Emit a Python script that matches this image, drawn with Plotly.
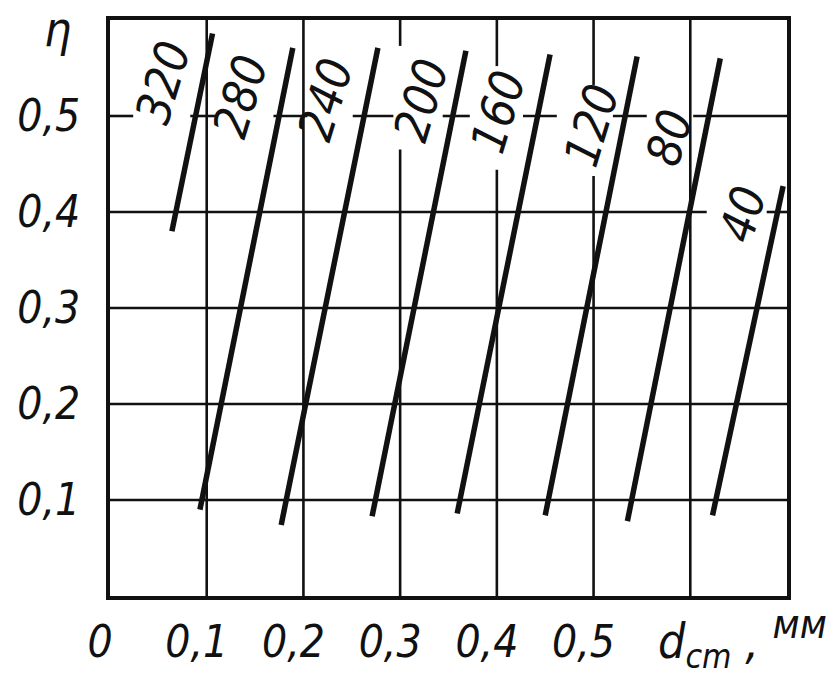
import plotly.graph_objects as go

# ---- data ----
curve_labels = ["320", "280", "240", "200", "160", "120", "80", "40"]
x_start = [0.064, 0.093, 0.177, 0.271, 0.359, 0.450, 0.535, 0.623]
y_start = [0.380, 0.090, 0.074, 0.083, 0.086, 0.084, 0.078, 0.084]
x_end = [0.106, 0.189, 0.277, 0.368, 0.455, 0.545, 0.631, 0.696]
y_end = [0.586, 0.571, 0.571, 0.568, 0.564, 0.562, 0.560, 0.427]

label_x = [0.055, 0.134, 0.222, 0.321, 0.401, 0.497, 0.578, 0.654]
label_y = [0.535, 0.520, 0.517, 0.517, 0.504, 0.490, 0.477, 0.398]

x_tickvals = [0, 0.1, 0.2, 0.3, 0.4, 0.5]
x_ticktext = ["0", "0,1", "0,2", "0,3", "0,4", "0,5"]
y_tickvals = [0.1, 0.2, 0.3, 0.4, 0.5]
y_ticktext = ["0,1", "0,2", "0,3", "0,4", "0,5"]

# ---- style ----
FONT = "Liberation Sans Narrow, DejaVu Sans Condensed, Liberation Sans, sans-serif"
INK = "#111111"
GRID_W = 2.6
CURVE_W = 5.5

# grid segments (broken around labels as in the original)
vgrid = {
    0.1: [(0, 0.6)],
    0.2: [(0, 0.6)],
    0.3: [(0, 0.465), (0.573, 0.6)],
    0.4: [(0, 0.444), (0.552, 0.6)],
    0.5: [(0, 0.4375), (0.532, 0.6)],
    0.6: [(0, 0.6)],
}
hgrid = {
    0.1: [(0, 0.7)],
    0.2: [(0, 0.7)],
    0.3: [(0, 0.7)],
    0.4: [(0, 0.617), (0.679, 0.7)],
    0.5: [(0, 0.024), (0.083, 0.111), (0.169, 0.204), (0.251, 0.293),
          (0.344, 0.372), (0.427, 0.462), (0.520, 0.555), (0.603, 0.7)],
}

fig = go.Figure()

shapes = []
for xv, segs in vgrid.items():
    for a, b in segs:
        shapes.append(dict(type="line", xref="x", yref="y", x0=xv, x1=xv, y0=a, y1=b,
                           line=dict(color=INK, width=GRID_W), layer="below"))
for yv, segs in hgrid.items():
    for a, b in segs:
        shapes.append(dict(type="line", xref="x", yref="y", x0=a, x1=b, y0=yv, y1=yv,
                           line=dict(color=INK, width=GRID_W), layer="below"))

for lab, xs, ys, xe, ye in zip(curve_labels, x_start, y_start, x_end, y_end):
    fig.add_trace(go.Scatter(x=[xs, xe], y=[ys, ye], mode="lines", name=lab,
                             line=dict(color=INK, width=CURVE_W), showlegend=False,
                             hoverinfo="skip"))

annotations = []
for lab, lx, ly in zip(curve_labels, label_x, label_y):
    annotations.append(dict(x=lx, y=ly, xref="x", yref="y", text=lab, showarrow=False,
                            xanchor="center", yanchor="middle",
                            textangle=-73, font=dict(family=FONT, size=48, color=INK,
                                                     style="italic")))

annotations.append(dict(x=-0.078, y=0.985, xref="paper", yref="paper", text="η",
                        xanchor="center", yanchor="middle",
                        showarrow=False, font=dict(family=FONT, size=48, color=INK,
                                                   style="italic")))
annotations.append(dict(x=0.654, y=-0.074, xref="x", yref="paper",
                        xanchor="center", yanchor="middle",
                        text="d<sub>cm</sub>\u00a0,\u00a0<sup><span style='font-size:40px'>мм</span></sup>",
                        showarrow=False,
                        font=dict(family=FONT, size=48, color=INK, style="italic")))

fig.update_layout(
    width=838, height=684,
    margin=dict(l=110, r=51, t=20, b=88, autoexpand=False),
    paper_bgcolor="white", plot_bgcolor="white",
    shapes=shapes, annotations=annotations,
    xaxis=dict(range=[0, 0.7], tickvals=x_tickvals, ticktext=x_ticktext,
               showgrid=False, zeroline=False, ticks="", automargin=False,
               showline=True, mirror=True, linecolor=INK, linewidth=4,
               ticklabelshift=-10, ticklabelstandoff=4,
               tickfont=dict(family=FONT, size=44, color=INK, style="italic")),
    yaxis=dict(range=[0, 0.6], tickvals=y_tickvals, ticktext=y_ticktext,
               showgrid=False, zeroline=False, ticks="", automargin=False,
               showline=True, mirror=True, linecolor=INK, linewidth=4,
               ticklabelstandoff=17,
               tickfont=dict(family=FONT, size=44, color=INK, style="italic")),
)

fig.write_html("out.html", config={"displayModeBar": False},
               post_script="document.body.style.margin='0';")
